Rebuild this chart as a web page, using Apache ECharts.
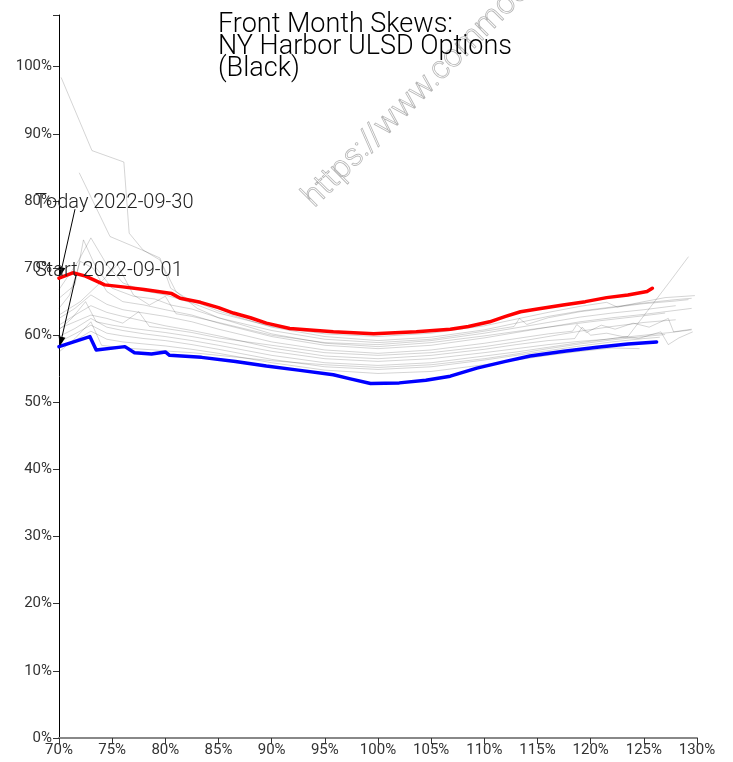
<!DOCTYPE html>
<html>
<head>
<meta charset="utf-8">
<script src="https://cdn.jsdelivr.net/npm/echarts@6/dist/echarts.min.js"></script>
<style>
html,body{margin:0;padding:0;background:#fff;}
#chart{width:733px;height:762px;}
</style>
</head>
<body>
<div id="chart"></div>
<script>
// ---- data ----
var titleText = 'Front Month Skews:\nNY Harbor ULSD Options\n(Black)';
var watermarkText = 'https://www.commodityresearch.com';
var todayLabel = 'Today 2022-09-30';
var startLabel = 'Start 2022-09-01';

var todayCurve = [[70,68.5],[71.3,69.3],[72.5,68.8],[74.3,67.5],[76,67.2],[78,66.8],[80.6,66.2],[81.4,65.5],[83.3,64.9],[85,64.1],[86.4,63.3],[88,62.6],[89.5,61.8],[91.7,61.0],[95.8,60.5],[99.6,60.2],[103.6,60.5],[106.8,60.9],[108.5,61.3],[110.5,62.0],[112,62.8],[113.4,63.5],[115,63.9],[117.4,64.5],[119.5,65.0],[121.5,65.6],[123.5,66.0],[125.3,66.5],[125.8,67.0]];
var startCurve = [[70,58.3],[72.9,59.8],[73.5,57.8],[76.2,58.3],[77.1,57.4],[78.7,57.2],[80,57.5],[80.4,57.0],[83.4,56.7],[86.6,56.1],[89.5,55.4],[92.5,54.8],[95.8,54.1],[97.4,53.5],[99.3,52.8],[102,52.9],[104.5,53.3],[106.8,53.9],[109.3,55.1],[112,56.1],[114.3,56.9],[117.5,57.6],[120.6,58.2],[123.5,58.7],[126.2,59.0]];

var grayA = [[70.2,98.4],[73.1,87.5],[76.1,85.8],[76.6,75.2],[77.9,72.7],[79.5,71.2],[81,66.5],[83,64],[85,62.6],[90,60.2],[95,58.8],[100,58.3],[105,58.9],[110,59.9],[115,61.0],[120,62.0],[125,62.9],[127,63.3]];
var grayB = [[71.9,84.2],[74.8,74.7],[77.8,72.7],[79.5,71.5],[80.5,67],[82,65.5],[85,63.6],[90,61.2],[95,59.8],[100,59.2],[105,59.7],[110,60.8],[113,61.8],[116,62.8],[119,63.6],[122,64.2],[125,64.8],[128,65.3],[129.5,65.5]];
var grayC = [[70,66.8],[71.8,71],[73,74.5],[74.5,70.5],[76,67.8],[78,66.6],[80,66],[82.5,64.8],[85,63.3],[90,61.3],[95,60.2],[100,59.8],[105,60.3],[110,61.4],[113,62.4],[116,63.4],[119,64.3],[121.5,64.9],[122.5,64.2],[125,65.0],[127,65.6],[129.8,65.9]];
var grayD = [[70,65.5],[71.5,67.5],[72.3,74.2],[73.5,70],[75,67],[77,65.8],[79,65.4],[80.5,64.5],[82.5,63.9],[85,62.6],[90,60.7],[95,59.4],[100,58.9],[105,59.4],[110,60.6],[112.8,61.3],[113.3,62.5],[114,61.6],[116,62.6],[119,63.5],[122,64.1],[125,64.7],[128,65.1],[129.2,65.3]];
var grayE = [[70,64],[71,66],[72,71],[73.2,70],[74.5,66.5],[76,65],[78,64.5],[80,63.8],[82.5,63],[85,61.8],[90,59.8],[95,58.5],[100,58.0],[105,58.5],[110,59.6],[113,60.4],[116,61.2],[119,62.0],[122,62.6],[125,63.1],[127.5,63.6],[129.5,64.0]];
var grayF = [[70,62.5],[71.5,64],[73,66],[74.5,64.6],[76,63.8],[78,63.3],[80,62.8],[82.5,62],[85,60.9],[90,59],[95,57.8],[100,57.3],[105,57.8],[110,58.8],[113,59.5],[116,60.2],[118.3,60.6],[118.7,61.6],[119.6,60.4],[121,61.5],[122.3,60.9],[124,61.8],[125.5,61.2],[127.3,62.5],[127.8,60.5],[129.5,60.9]];
var grayG = [[70,61.5],[71.5,63],[73,64.4],[74.5,63.4],[76,62.8],[78,62.1],[80,61.4],[82.5,60.7],[85,59.9],[90,58.1],[95,56.9],[100,56.5],[105,57.0],[110,57.9],[113,58.6],[116,59.2],[118.5,59.5],[119.2,61.2],[120,60.0],[121.5,60.3],[123,59.8],[124.5,59.5],[126.6,60.5],[127.3,58.6],[128.3,59.6],[129.6,60.5]];
var grayH = [[70,60.8],[71.2,62.5],[72.5,65],[73.5,62],[75,61.5],[77,61],[80,60.4],[82.5,59.8],[85,59.1],[90,57.6],[95,56.5],[100,56.1],[105,56.5],[110,57.4],[113,58.0],[116,58.6],[119,59.1],[121.5,59.4],[123.5,59.8],[125,62.9],[127.5,68.1],[129.2,71.7]];
var grayI = [[70,59.8],[71.5,61],[73,62.5],[74.5,61.2],[76,60.7],[78,60.2],[80,59.8],[82.5,59.2],[85,58.5],[90,57.0],[95,55.9],[100,55.5],[105,55.9],[110,56.9],[113,57.5],[116,58.2],[119,58.9],[122,59.5],[125,60.0],[127.5,60.4],[129.5,60.8]];
var grayJ = [[70,59],[71.5,60.2],[73,61.5],[74.5,60.3],[76,59.9],[78,59.5],[80,59.2],[82.5,58.6],[85,57.9],[90,56.4],[95,55.3],[100,54.9],[105,55.3],[110,56.3],[113,57.0],[116,57.7],[119,58.4],[122,59.0],[125,59.5],[126.5,59.7]];
var grayK = [[70,58.3],[71.5,59.2],[73,60.6],[74.5,59.4],[76,59],[78,58.7],[80,58.4],[82.5,57.9],[85,57.3],[90,55.9],[95,54.8],[100,54.3],[105,54.6],[110,55.6],[113,56.3],[116,57.0],[119,57.6],[122,58.1],[124.6,58.0]];
var grayL = [[70,63],[72,65],[74,68],[75.5,70.5],[77,66],[78.5,64.5],[80,65.8],[81,63.2],[82.5,62.8],[85,61.9],[90,60.0],[95,58.9],[100,58.6],[105,59.2],[110,60.3],[113,61.1],[116,61.9],[119,62.7],[122,63.3],[125,63.8],[128,64.4]];
var grayM = [[70,61],[71.5,62],[73,63],[74.5,62.5],[76,61.8],[77.5,63.5],[78.5,61.3],[80,61.0],[82.5,60.4],[85,59.6],[90,58.5],[95,57.4],[100,57.0],[105,57.4],[110,58.3],[113,59.0],[116,59.8],[119,60.6],[122,61.3],[125,61.9],[128,62.3]];
var grayN = [[70,57.5],[71.5,59.5],[73,62],[74,58.5],[75.5,58.2],[77,58],[79,57.8],[80.5,57.6],[82.5,57.4],[85,57],[90,56.2],[95,55.6],[100,55.2],[105,55.6],[110,56.5],[113,57.2],[116,58],[119,58.7],[122,59.3],[125,59.8],[127,60.1]];
var grayCurves = [grayA, grayB, grayC, grayD, grayE, grayF, grayG, grayH, grayI, grayJ, grayK, grayL, grayM, grayN];

var xMin = 70, xMax = 130, xStep = 5;
var yMin = 0, yMax = 107.7, yStep = 10;

// ---- chart ----
var chart = echarts.init(document.getElementById('chart'), null, {renderer: 'canvas'});
var FONT = 'Roboto, "Noto Sans", sans-serif';

var series = [];
grayCurves.forEach(function (c) {
  series.push({
    type: 'line', data: c, showSymbol: false, silent: true,
    lineStyle: {color: 'rgba(0,0,0,0.17)', width: 1}, z: 1
  });
});
series.push({type: 'line', data: startCurve, showSymbol: false, silent: true,
  lineStyle: {color: '#0000ff', width: 3.5, join: 'round', cap: 'round'}, z: 3});
series.push({type: 'line', data: todayCurve, showSymbol: false, silent: true,
  lineStyle: {color: '#ff0000', width: 3.5, join: 'round', cap: 'round'}, z: 3});

chart.setOption({
  animation: false,
  backgroundColor: '#fff',
  grid: {left: 59, right: 36, top: 15, bottom: 24, containLabel: false},
  xAxis: {
    type: 'value', min: xMin, max: xMax, interval: xStep,
    axisLine: {show: true, onZero: false, lineStyle: {color: '#888', width: 2}},
    axisTick: {show: true, length: 6, lineStyle: {color: '#333'}},
    axisLabel: {color: '#333', fontFamily: FONT, fontSize: 15, fontWeight: 400, margin: 5,
      formatter: function (v) { return v + '%'; }},
    splitLine: {show: false}
  },
  yAxis: {
    type: 'value', min: yMin, max: yMax, interval: yStep,
    axisLine: {show: true, lineStyle: {color: '#000', width: 1}},
    axisTick: {show: true, length: 6, lineStyle: {color: '#333'}},
    axisLabel: {color: '#333', fontFamily: FONT, fontSize: 15, fontWeight: 400, margin: 7,
      formatter: function (v) { return (Math.abs(v % 10) < 1e-6) ? (Math.round(v) + '%') : ''; }},
    splitLine: {show: false}
  },
  series: series
});

function px(pt) { return chart.convertToPixel({gridIndex: 0}, pt); }

function arrow(from, to) {
  var dx = to[0] - from[0], dy = to[1] - from[1];
  var len = Math.sqrt(dx * dx + dy * dy);
  var ux = dx / len, uy = dy / len;
  var hl = 9, hw = 3.5;
  var bx = to[0] - ux * hl, by = to[1] - uy * hl;
  return [
    {type: 'line', shape: {x1: from[0], y1: from[1], x2: bx, y2: by},
      style: {stroke: '#000', lineWidth: 1}, z: 10, silent: true},
    {type: 'polygon', shape: {points: [[to[0], to[1]], [bx - uy * hw, by + ux * hw], [bx + uy * hw, by - ux * hw]]},
      style: {fill: '#000'}, z: 10, silent: true}
  ];
}

var pT = px(todayCurve[0]);
var pS = px(startCurve[0]);
var pTop = px([xMin, yMax]);

var graphics = [];
// outer tick at the top of the y axis
graphics.push({type: 'line', shape: {x1: pTop[0] - 6, y1: pTop[1] + 0.5, x2: pTop[0], y2: pTop[1] + 0.5},
  style: {stroke: '#333', lineWidth: 1}, silent: true});
graphics.push({
  type: 'text', left: 218, top: 12, z: 20, silent: true,
  style: {text: titleText, fill: '#000', font: '300 27px ' + FONT, lineHeight: 22}
});
graphics.push({
  type: 'text', x: 320, y: 214, rotation: Math.PI / 4, z: 0, silent: true,
  style: {text: watermarkText, fill: 'rgba(255,255,255,0)', stroke: 'rgba(150,150,150,0.7)', lineWidth: 0.8,
    font: '300 32px ' + FONT, textAlign: 'left', textVerticalAlign: 'bottom'}
});
graphics.push({
  type: 'text', x: pT[0] - 24, y: pT[1] - 75, z: 12, silent: true,
  style: {text: todayLabel, fill: '#222', font: '300 20px ' + FONT, textAlign: 'left', textVerticalAlign: 'middle'}
});
graphics.push({
  type: 'text', x: pS[0] - 24, y: pS[1] - 76, z: 12, silent: true,
  style: {text: startLabel, fill: '#222', font: '300 20px ' + FONT, textAlign: 'left', textVerticalAlign: 'middle'}
});
graphics = graphics.concat(arrow([pT[0] + 16, pT[1] - 69], [pT[0] + 1, pT[1] - 2]));
graphics = graphics.concat(arrow([pS[0] + 17, pS[1] - 71], [pS[0] + 1, pS[1] - 1]));

chart.setOption({graphic: graphics});
</script>
</body>
</html>
